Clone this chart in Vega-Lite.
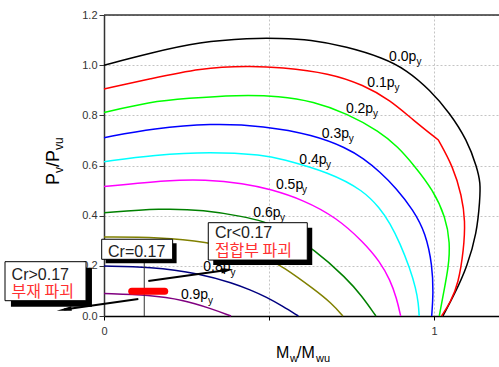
{
  "$schema": "https://vega.github.io/schema/vega-lite/v6.json",
  "width": 396,
  "height": 301,
  "autosize": {"type": "none"},
  "padding": {"left": 104, "top": 15, "right": 0, "bottom": 51},
  "background": "white",
  "config": {"view": {"stroke": null}, "font": "Liberation Sans"},
  "datasets": {
    "curves": [
      {"s":"0.0","i":0,"x":0,"y":1.0},{"s":"0.0","i":1,"x":0.139,"y":1.048},{"s":"0.0","i":2,"x":0.291,"y":1.093},{"s":"0.0","i":3,"x":0.442,"y":1.108},{"s":"0.0","i":4,"x":0.533,"y":1.107},{"s":"0.0","i":5,"x":0.624,"y":1.102},{"s":"0.0","i":6,"x":0.735,"y":1.074},{"s":"0.0","i":7,"x":0.846,"y":1.029},{"s":"0.0","i":8,"x":0.917,"y":0.981},{"s":"0.0","i":9,"x":0.988,"y":0.901},{"s":"0.0","i":10,"x":1.048,"y":0.809},{"s":"0.0","i":11,"x":1.1,"y":0.702},{"s":"0.0","i":12,"x":1.13,"y":0.594},{"s":"0.0","i":13,"x":1.141,"y":0.53},{"s":"0.0","i":14,"x":1.139,"y":0.463},{"s":"0.0","i":15,"x":1.13,"y":0.331},{"s":"0.0","i":16,"x":1.1,"y":0.195},{"s":"0.0","i":17,"x":1.064,"y":0.092},{"s":"0.0","i":18,"x":1.027,"y":0},
      {"s":"0.1","i":0,"x":0,"y":0.905},{"s":"0.1","i":1,"x":0.139,"y":0.945},{"s":"0.1","i":2,"x":0.291,"y":0.989},{"s":"0.1","i":3,"x":0.442,"y":0.997},{"s":"0.1","i":4,"x":0.533,"y":0.992},{"s":"0.1","i":5,"x":0.685,"y":0.968},{"s":"0.1","i":6,"x":0.786,"y":0.921},{"s":"0.1","i":7,"x":0.867,"y":0.861},{"s":"0.1","i":8,"x":0.937,"y":0.781},{"s":"0.1","i":9,"x":1.013,"y":0.702},{"s":"0.1","i":10,"x":1.013,"y":0.702},{"s":"0.1","i":11,"x":1.013,"y":0.702},{"s":"0.1","i":12,"x":1.058,"y":0.595},{"s":"0.1","i":13,"x":1.084,"y":0.48},{"s":"0.1","i":14,"x":1.095,"y":0.38},{"s":"0.1","i":15,"x":1.09,"y":0.263},{"s":"0.1","i":16,"x":1.074,"y":0.13},{"s":"0.1","i":17,"x":1.05,"y":0.055},{"s":"0.1","i":18,"x":1.023,"y":0},
      {"s":"0.2","i":0,"x":0,"y":0.811},{"s":"0.2","i":1,"x":0.139,"y":0.854},{"s":"0.2","i":2,"x":0.252,"y":0.868},{"s":"0.2","i":3,"x":0.404,"y":0.881},{"s":"0.2","i":4,"x":0.533,"y":0.877},{"s":"0.2","i":5,"x":0.634,"y":0.855},{"s":"0.2","i":6,"x":0.735,"y":0.808},{"s":"0.2","i":7,"x":0.836,"y":0.735},{"s":"0.2","i":8,"x":0.89,"y":0.675},{"s":"0.2","i":9,"x":0.94,"y":0.6},{"s":"0.2","i":10,"x":0.997,"y":0.502},{"s":"0.2","i":11,"x":1.035,"y":0.395},{"s":"0.2","i":12,"x":1.049,"y":0.291},{"s":"0.2","i":13,"x":1.044,"y":0.195},{"s":"0.2","i":14,"x":1.029,"y":0.092},{"s":"0.2","i":15,"x":1.016,"y":0},
      {"s":"0.3","i":0,"x":0,"y":0.711},{"s":"0.3","i":1,"x":0.152,"y":0.748},{"s":"0.3","i":2,"x":0.323,"y":0.768},{"s":"0.3","i":3,"x":0.485,"y":0.758},{"s":"0.3","i":4,"x":0.634,"y":0.722},{"s":"0.3","i":5,"x":0.735,"y":0.67},{"s":"0.3","i":6,"x":0.786,"y":0.628},{"s":"0.3","i":7,"x":0.836,"y":0.575},{"s":"0.3","i":8,"x":0.885,"y":0.51},{"s":"0.3","i":9,"x":0.937,"y":0.423},{"s":"0.3","i":10,"x":0.975,"y":0.33},{"s":"0.3","i":11,"x":0.995,"y":0.2},{"s":"0.3","i":12,"x":0.998,"y":0.091},{"s":"0.3","i":13,"x":0.993,"y":0},
      {"s":"0.4","i":0,"x":0,"y":0.615},{"s":"0.4","i":1,"x":0.152,"y":0.642},{"s":"0.4","i":2,"x":0.323,"y":0.655},{"s":"0.4","i":3,"x":0.485,"y":0.642},{"s":"0.4","i":4,"x":0.533,"y":0.628},{"s":"0.4","i":5,"x":0.685,"y":0.572},{"s":"0.4","i":6,"x":0.786,"y":0.5},{"s":"0.4","i":7,"x":0.836,"y":0.43},{"s":"0.4","i":8,"x":0.867,"y":0.37},{"s":"0.4","i":9,"x":0.897,"y":0.29},{"s":"0.4","i":10,"x":0.927,"y":0.19},{"s":"0.4","i":11,"x":0.945,"y":0.11},{"s":"0.4","i":12,"x":0.953,"y":0.05},{"s":"0.4","i":13,"x":0.955,"y":0},
      {"s":"0.5","i":0,"x":0,"y":0.516},{"s":"0.5","i":1,"x":0.202,"y":0.542},{"s":"0.5","i":2,"x":0.303,"y":0.544},{"s":"0.5","i":3,"x":0.424,"y":0.529},{"s":"0.5","i":4,"x":0.505,"y":0.505},{"s":"0.5","i":5,"x":0.604,"y":0.463},{"s":"0.5","i":6,"x":0.705,"y":0.392},{"s":"0.5","i":7,"x":0.786,"y":0.295},{"s":"0.5","i":8,"x":0.836,"y":0.217},{"s":"0.5","i":9,"x":0.867,"y":0.144},{"s":"0.5","i":10,"x":0.887,"y":0.07},{"s":"0.5","i":11,"x":0.899,"y":0},
      {"s":"0.6","i":0,"x":0,"y":0.412},{"s":"0.6","i":1,"x":0.172,"y":0.429},{"s":"0.6","i":2,"x":0.303,"y":0.423},{"s":"0.6","i":3,"x":0.424,"y":0.396},{"s":"0.6","i":4,"x":0.485,"y":0.376},{"s":"0.6","i":5,"x":0.533,"y":0.352},{"s":"0.6","i":6,"x":0.638,"y":0.265},{"s":"0.6","i":7,"x":0.735,"y":0.15},{"s":"0.6","i":8,"x":0.78,"y":0.082},{"s":"0.6","i":9,"x":0.824,"y":0},
      {"s":"0.7","i":0,"x":0,"y":0.315},{"s":"0.7","i":1,"x":0.17,"y":0.314},{"s":"0.7","i":2,"x":0.311,"y":0.296},{"s":"0.7","i":3,"x":0.42,"y":0.262},{"s":"0.7","i":4,"x":0.503,"y":0.223},{"s":"0.7","i":5,"x":0.538,"y":0.2},{"s":"0.7","i":6,"x":0.64,"y":0.104},{"s":"0.7","i":7,"x":0.69,"y":0.05},{"s":"0.7","i":8,"x":0.724,"y":0},
      {"s":"0.8","i":0,"x":0,"y":0.199},{"s":"0.8","i":1,"x":0.139,"y":0.197},{"s":"0.8","i":2,"x":0.291,"y":0.17},{"s":"0.8","i":3,"x":0.392,"y":0.13},{"s":"0.8","i":4,"x":0.442,"y":0.105},{"s":"0.8","i":5,"x":0.493,"y":0.075},{"s":"0.8","i":6,"x":0.54,"y":0.04},{"s":"0.8","i":7,"x":0.589,"y":0},
      {"s":"0.9","i":0,"x":0,"y":0.09},{"s":"0.9","i":1,"x":0.139,"y":0.084},{"s":"0.9","i":2,"x":0.24,"y":0.064},{"s":"0.9","i":3,"x":0.321,"y":0.031},{"s":"0.9","i":4,"x":0.385,"y":0}
    ],
    "labels": [
      {"t":"0.0p","x":0.864,"y":1.015,"sx":0.947,"sy":1.0},
      {"t":"0.1p","x":0.798,"y":0.914,"sx":0.88,"sy":0.897},
      {"t":"0.2p","x":0.733,"y":0.811,"sx":0.815,"sy":0.795},
      {"t":"0.3p","x":0.66,"y":0.711,"sx":0.742,"sy":0.695},
      {"t":"0.4p","x":0.592,"y":0.605,"sx":0.673,"sy":0.589},
      {"t":"0.5p","x":0.521,"y":0.505,"sx":0.6,"sy":0.489},
      {"t":"0.6p","x":0.4525,"y":0.396,"sx":0.533,"sy":0.38},
      {"t":"0.8p","x":0.301,"y":0.179,"sx":0.383,"sy":0.159},
      {"t":"0.9p","x":0.233,"y":0.0678,"sx":0.315,"sy":0.048}
    ],
    "boxes": [
      {"x":-0.007,"x2":0.208,"y":0.226,"y2":0.306,"sx":0.005,"sx2":0.22,"sy":0.21,"sy2":0.29},
      {"x":0.316,"x2":0.616,"y":0.223,"y2":0.372,"sx":0.331,"sx2":0.631,"sy":0.203,"sy2":0.352},
      {"x":-0.3,"x2":-0.0545,"y":0.061,"y2":0.2165,"sx":-0.282,"sx2":-0.0365,"sy":0.037,"sy2":0.1925}
    ],
    "boxtext": [
      {"t":"Cr=0.17","x":0.0121,"y":0.2365},
      {"t":"Cr<0.17","x":0.336,"y":0.31},
      {"t":"Cr>0.17","x":-0.28,"y":0.1435}
    ],
    "boxkr": [
      {"t":"접합부 파괴","x":0.336,"y":0.239},
      {"t":"부재 파괴","x":-0.28,"y":0.076}
    ],
    "arrows": [
      {"x":0.104,"y":0.0678,"x2":-0.1209,"y2":0.0255},
      {"x":0.1343,"y":0.1396,"x2":0.3736,"y2":0.183}
    ],
    "titleBig": [
      {"t":"M","x":0.521,"y":-0.1675},
      {"t":"/M","x":0.585,"y":-0.1675}
    ],
    "titleSmall": [
      {"t":"w","x":0.5636,"y":-0.183},
      {"t":"wu","x":0.6424,"y":-0.183}
    ],
    "ytitleBig": [
      {"t":"P","x":-0.1376,"y":0.522},
      {"t":"/P","x":-0.1376,"y":0.594}
    ],
    "ytitleSmall": [
      {"t":"v","x":-0.1255,"y":0.57},
      {"t":"vu","x":-0.1255,"y":0.662}
    ]
  },
  "layer": [
    {
      "data": {"name": "curves"},
      "mark": {"type": "line", "strokeWidth": 1.5, "interpolate": "basis"},
      "encoding": {
        "x": {"field": "x", "type": "quantitative", "title": null, "scale": {"domain": [0, 1.2], "nice": false, "zero": false},
          "axis": {"values": [0, 0.5, 1], "labelExpr": "datum.value == 0.5 ? '' : format(datum.value, 'd')", "title": null, "grid": true, "gridColor": "#c4c4c4", "gridDash": [2, 2], "domainColor": "#000000", "domainWidth": 1.5, "tickColor": "#000000", "tickSize": 4, "labelFontSize": 11, "labelColor": "#333333", "labelFont": "Liberation Sans", "labelPadding": 5, "labelFlush": false}},
        "y": {"field": "y", "type": "quantitative", "title": null, "scale": {"domain": [0, 1.2], "nice": false, "zero": false},
          "axis": {"values": [0, 0.1, 0.2, 0.3, 0.4, 0.5, 0.6, 0.7, 0.8, 0.9, 1.0, 1.1, 1.2], "labelExpr": "round(datum.value * 10) % 2 == 0 ? format(datum.value, '.1f') : ''", "title": null, "grid": true, "gridColor": "#c4c4c4", "gridDash": [2, 2], "domainColor": "#333333", "domainWidth": 1.5, "tickColor": "#333333", "tickSize": 5, "labelFontSize": 11, "labelColor": "#333333", "labelFont": "Liberation Sans", "labelPadding": 2, "labelFlush": false, "labelOverlap": false}},
        "color": {"field": "s", "type": "nominal", "scale": {"domain": ["0.0","0.1","0.2","0.3","0.4","0.5","0.6","0.7","0.8","0.9"], "range": ["#000000","#ff0000","#00ff00","#0000ff","#00ffff","#ff00ff","#008000","#808000","#000080","#800080"]}, "legend": null},
        "order": {"field": "i", "type": "quantitative"}
      }
    },
    {
      "data": {"values": [{}]},
      "mark": {"type": "rule", "color": "#333333", "strokeWidth": 1.5},
      "encoding": {"y": {"datum": 1.2, "type": "quantitative", "title": null, "scale": {"domain": [0, 1.2], "nice": false, "zero": false}}}
    },
    {
      "data": {"name": "labels"},
      "mark": {"type": "text", "align": "left", "baseline": "alphabetic", "fontSize": 14, "font": "Liberation Sans", "color": "#000000"},
      "encoding": {
        "x": {"field": "x", "type": "quantitative", "title": null, "scale": {"domain": [0, 1.2], "nice": false, "zero": false}},
        "y": {"field": "y", "type": "quantitative", "title": null, "scale": {"domain": [0, 1.2], "nice": false, "zero": false}},
        "text": {"field": "t"}
      }
    },
    {
      "data": {"name": "labels"},
      "mark": {"type": "text", "align": "left", "baseline": "alphabetic", "fontSize": 10, "font": "Liberation Sans", "color": "#000000"},
      "encoding": {
        "x": {"field": "sx", "type": "quantitative", "title": null, "scale": {"domain": [0, 1.2], "nice": false, "zero": false}},
        "y": {"field": "sy", "type": "quantitative", "title": null, "scale": {"domain": [0, 1.2], "nice": false, "zero": false}},
        "text": {"value": "y"}
      }
    },
    {
      "data": {"values": [{}]},
      "mark": {"type": "rule", "color": "#333333", "strokeWidth": 1},
      "encoding": {
        "x": {"datum": 0.122, "type": "quantitative", "title": null, "scale": {"domain": [0, 1.2], "nice": false, "zero": false}},
        "y": {"datum": 0, "type": "quantitative", "title": null, "scale": {"domain": [0, 1.2], "nice": false, "zero": false}},
        "y2": {"datum": 0.23}
      }
    },
    {
      "data": {"values": [{}]},
      "mark": {"type": "rule", "color": "#ff0000", "strokeWidth": 7, "strokeCap": "round"},
      "encoding": {
        "x": {"datum": 0.084, "type": "quantitative", "title": null, "scale": {"domain": [0, 1.2], "nice": false, "zero": false}},
        "x2": {"datum": 0.184},
        "y": {"datum": 0.0985, "type": "quantitative", "title": null, "scale": {"domain": [0, 1.2], "nice": false, "zero": false}}
      }
    },
    {
      "data": {"name": "boxes"},
      "mark": {"type": "rect", "color": "#000000"},
      "encoding": {
        "x": {"field": "sx", "type": "quantitative", "title": null, "scale": {"domain": [0, 1.2], "nice": false, "zero": false}},
        "x2": {"field": "sx2"},
        "y": {"field": "sy", "type": "quantitative", "title": null, "scale": {"domain": [0, 1.2], "nice": false, "zero": false}},
        "y2": {"field": "sy2"}
      }
    },
    {
      "data": {"name": "boxes"},
      "mark": {"type": "rect", "fill": "#ffffff", "stroke": "#000000", "strokeWidth": 1},
      "encoding": {
        "x": {"field": "x", "type": "quantitative", "title": null, "scale": {"domain": [0, 1.2], "nice": false, "zero": false}},
        "x2": {"field": "x2"},
        "y": {"field": "y", "type": "quantitative", "title": null, "scale": {"domain": [0, 1.2], "nice": false, "zero": false}},
        "y2": {"field": "y2"}
      }
    },
    {
      "data": {"name": "boxtext"},
      "mark": {"type": "text", "align": "left", "baseline": "alphabetic", "fontSize": 16, "font": "Liberation Sans", "color": "#222222"},
      "encoding": {
        "x": {"field": "x", "type": "quantitative", "title": null, "scale": {"domain": [0, 1.2], "nice": false, "zero": false}},
        "y": {"field": "y", "type": "quantitative", "title": null, "scale": {"domain": [0, 1.2], "nice": false, "zero": false}},
        "text": {"field": "t"}
      }
    },
    {
      "data": {"name": "boxkr"},
      "mark": {"type": "text", "align": "left", "baseline": "alphabetic", "fontSize": 16, "font": "Noto Sans CJK KR", "color": "#ff3030"},
      "encoding": {
        "x": {"field": "x", "type": "quantitative", "title": null, "scale": {"domain": [0, 1.2], "nice": false, "zero": false}},
        "y": {"field": "y", "type": "quantitative", "title": null, "scale": {"domain": [0, 1.2], "nice": false, "zero": false}},
        "text": {"field": "t"}
      }
    },
    {
      "data": {"name": "arrows"},
      "mark": {"type": "rule", "color": "#000000", "strokeWidth": 2},
      "encoding": {
        "x": {"field": "x", "type": "quantitative", "title": null, "scale": {"domain": [0, 1.2], "nice": false, "zero": false}},
        "x2": {"field": "x2"},
        "y": {"field": "y", "type": "quantitative", "title": null, "scale": {"domain": [0, 1.2], "nice": false, "zero": false}},
        "y2": {"field": "y2"}
      }
    },
    {
      "data": {"values": [{}]},
      "mark": {"type": "point", "shape": "M-1,0L1,-0.3L1,0.3Z", "size": 225, "angle": -8, "filled": true, "color": "#000000", "opacity": 1},
      "encoding": {
        "x": {"datum": -0.1209, "type": "quantitative", "title": null, "scale": {"domain": [0, 1.2], "nice": false, "zero": false}},
        "y": {"datum": 0.0255, "type": "quantitative", "title": null, "scale": {"domain": [0, 1.2], "nice": false, "zero": false}}
      }
    },
    {
      "data": {"values": [{}]},
      "mark": {"type": "point", "shape": "M1,0L-1,-0.45L-1,0.45Z", "size": 144, "angle": -8, "filled": true, "color": "#000000", "opacity": 1},
      "encoding": {
        "x": {"datum": 0.3736, "type": "quantitative", "title": null, "scale": {"domain": [0, 1.2], "nice": false, "zero": false}},
        "y": {"datum": 0.183, "type": "quantitative", "title": null, "scale": {"domain": [0, 1.2], "nice": false, "zero": false}}
      }
    },
    {
      "data": {"name": "titleBig"},
      "mark": {"type": "text", "align": "left", "baseline": "alphabetic", "fontSize": 16, "font": "Liberation Sans", "color": "#000000"},
      "encoding": {
        "x": {"field": "x", "type": "quantitative", "title": null, "scale": {"domain": [0, 1.2], "nice": false, "zero": false}},
        "y": {"field": "y", "type": "quantitative", "title": null, "scale": {"domain": [0, 1.2], "nice": false, "zero": false}},
        "text": {"field": "t"}
      }
    },
    {
      "data": {"name": "titleSmall"},
      "mark": {"type": "text", "align": "left", "baseline": "alphabetic", "fontSize": 11, "font": "Liberation Sans", "color": "#000000"},
      "encoding": {
        "x": {"field": "x", "type": "quantitative", "title": null, "scale": {"domain": [0, 1.2], "nice": false, "zero": false}},
        "y": {"field": "y", "type": "quantitative", "title": null, "scale": {"domain": [0, 1.2], "nice": false, "zero": false}},
        "text": {"field": "t"}
      }
    },
    {
      "data": {"name": "ytitleBig"},
      "mark": {"type": "text", "align": "left", "baseline": "alphabetic", "angle": 270, "fontSize": 18, "font": "Liberation Sans", "color": "#000000"},
      "encoding": {
        "x": {"field": "x", "type": "quantitative", "title": null, "scale": {"domain": [0, 1.2], "nice": false, "zero": false}},
        "y": {"field": "y", "type": "quantitative", "title": null, "scale": {"domain": [0, 1.2], "nice": false, "zero": false}},
        "text": {"field": "t"}
      }
    },
    {
      "data": {"name": "ytitleSmall"},
      "mark": {"type": "text", "align": "left", "baseline": "alphabetic", "angle": 270, "fontSize": 12, "font": "Liberation Sans", "color": "#000000"},
      "encoding": {
        "x": {"field": "x", "type": "quantitative", "title": null, "scale": {"domain": [0, 1.2], "nice": false, "zero": false}},
        "y": {"field": "y", "type": "quantitative", "title": null, "scale": {"domain": [0, 1.2], "nice": false, "zero": false}},
        "text": {"field": "t"}
      }
    }
  ]
}
